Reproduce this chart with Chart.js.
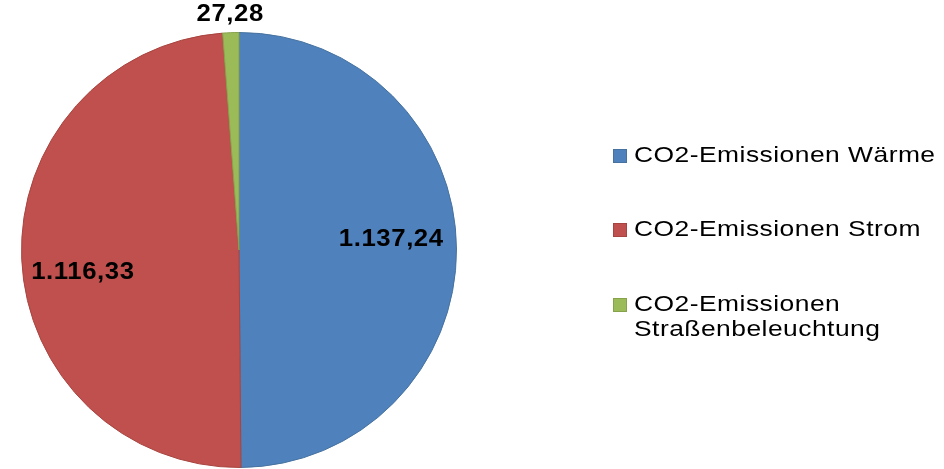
<!DOCTYPE html>
<html>
<head>
<meta charset="utf-8">
<script src="https://cdn.jsdelivr.net/npm/chart.js@4/dist/chart.umd.min.js"></script>
<style>
  html, body { margin: 0; padding: 0; background: #fff; }
  #wrap { width: 944px; height: 469px; position: relative; }
</style>
</head>
<body>
<div id="wrap"><canvas id="co2Chart" width="944" height="469"></canvas></div>
<script>
// Data
const labels = ['CO2-Emissionen Wärme', 'CO2-Emissionen Strom', 'CO2-Emissionen Straßenbeleuchtung'];
const legendLines = [['CO2-Emissionen Wärme'], ['CO2-Emissionen Strom'], ['CO2-Emissionen', 'Straßenbeleuchtung']];
const values = [1137.24, 1116.33, 27.28];
const valueTexts = ['1.137,24', '1.116,33', '27,28'];
const colors = ['#4F81BD', '#C0504D', '#9BBB59'];
const borders = ['#46729F', '#A8443F', '#86A24B'];

// the source picture is slightly stretched sideways, so widen the text a bit
function wideText(ctx, text, x, y, sx) {
    ctx.save();
    ctx.translate(x, y);
    ctx.scale(sx, 1);
    ctx.fillText(text, 0, 0);
    ctx.restore();
}

// value labels on the slices
const sliceLabels = {
    id: 'sliceLabels',
    afterDatasetsDraw(chart) {
        const ctx = chart.ctx;
        const meta = chart.getDatasetMeta(0);
        const total = values.reduce((a, b) => a + b, 0);
        ctx.save();
        ctx.font = 'bold 23px "Liberation Sans", Arial, sans-serif';
        ctx.letterSpacing = '0.5px';
        ctx.fillStyle = '#000';
        ctx.textAlign = 'center';
        ctx.textBaseline = 'middle';
        meta.data.forEach((arc, i) => {
            const mid = (arc.startAngle + arc.endAngle) / 2;
            let r = arc.outerRadius * 0.7;
            if (values[i] / total < 0.05) r = arc.outerRadius + 18;
            let x = arc.x + Math.cos(mid) * r;
            let y = arc.y + Math.sin(mid) * r;
            if (i === 1) { y += 16; x -= 4; } // Excel places this one a bit lower
            if (i === 0) y -= 10;
            wideText(ctx, valueTexts[i], x, y, 1.12);
        });
        ctx.restore();
    }
};

// legend on the right, drawn by hand so the long label can wrap
const sideLegend = {
    id: 'sideLegend',
    afterDraw(chart) {
        const ctx = chart.ctx;
        const left = 613;
        const rows = [156, 230, 305];
        ctx.save();
        ctx.font = '22px "Liberation Sans", Arial, sans-serif';
        ctx.letterSpacing = '0.4px';
        ctx.textBaseline = 'middle';
        ctx.textAlign = 'left';
        legendLines.forEach((lines, i) => {
            const y = rows[i];
            ctx.fillStyle = colors[i];
            ctx.fillRect(left, y - 7, 14, 14);
            ctx.strokeStyle = borders[i];
            ctx.lineWidth = 1;
            ctx.strokeRect(left + 0.5, y - 6.5, 13, 13);
            ctx.fillStyle = '#000';
            lines.forEach((t, j) => wideText(ctx, t, left + 21, y + j * 25, 1.2));
        });
        ctx.restore();
    }
};

new Chart(document.getElementById('co2Chart'), {
    type: 'pie',
    data: {
        labels: labels,
        datasets: [{
            data: values,
            backgroundColor: colors,
            borderColor: borders,
            borderWidth: 1
        }]
    },
    options: {
        responsive: false,
        animation: false,
        layout: { padding: { left: 21, right: 487, top: 32, bottom: 1 } },
        plugins: {
            legend: { display: false },
            tooltip: { enabled: false }
        }
    },
    plugins: [sliceLabels, sideLegend]
});
</script>
</body>
</html>
